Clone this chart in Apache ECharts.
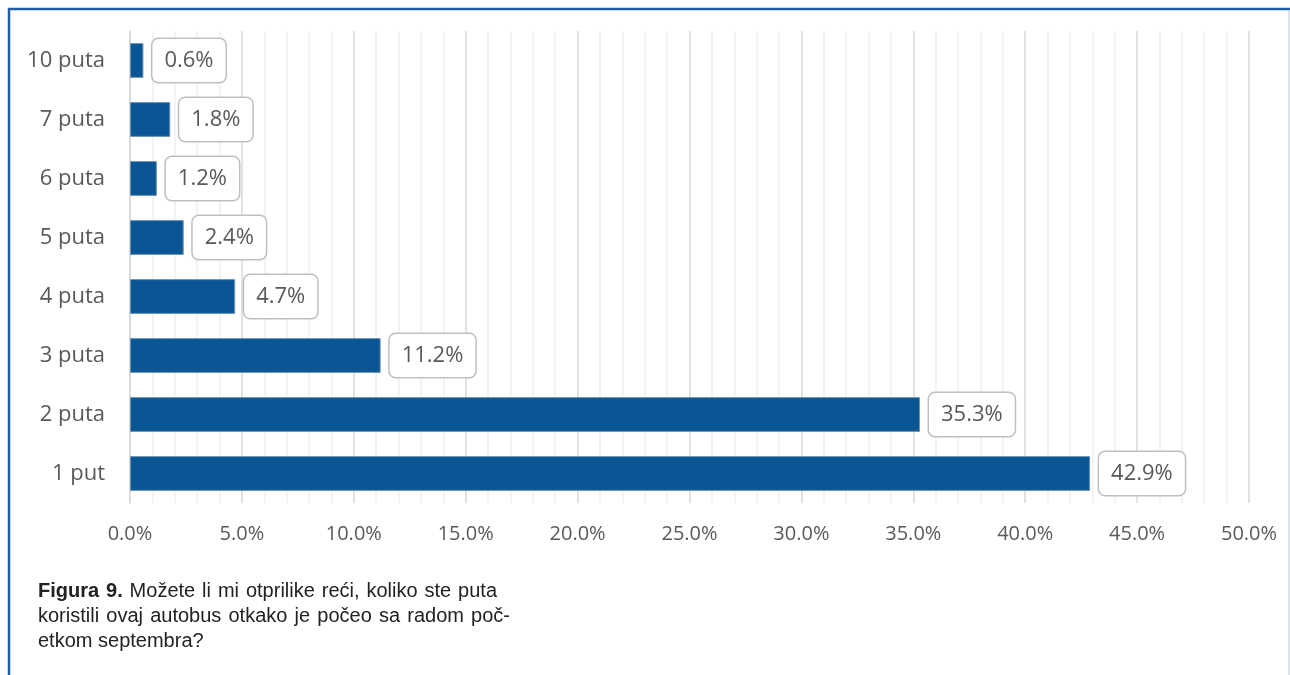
<!DOCTYPE html>
<html>
<head>
<meta charset="utf-8">
<script src="https://cdn.jsdelivr.net/npm/echarts@6/dist/echarts.min.js"></script>
<style>
  html, body { margin: 0; padding: 0; background: #ffffff; }
  #chart { width: 1290px; height: 675px; }
</style>
</head>
<body>
<div id="chart"></div>
<script>
// Number of bus rides since the line opened (share of respondents, %)
const categories = ['1 put', '2 puta', '3 puta', '4 puta', '5 puta', '6 puta', '7 puta', '10 puta'];
const shares = [42.9, 35.3, 11.2, 4.7, 2.4, 1.2, 1.8, 0.6];
const axisMax = 50;
const axisStep = 5;

// Caption lines (first words of line one are bold)
const captionBold = 'Figura 9.';
const captionLines = [
  'Možete li mi otprilike reći, koliko ste puta',
  'koristili ovaj autobus otkako je počeo sa radom poč-',
  'etkom septembra?'
];

const chart = echarts.init(document.getElementById('chart'));
const font = '"Open Sans", sans-serif';
const capFont = '"Liberation Sans", Arial, sans-serif';
const capSize = 20;

// Justified caption: each word placed as its own text, spaces stretched to fill the line
const measure = document.createElement('canvas').getContext('2d');
function wordWidth(w, bold) {
  measure.font = (bold ? 'bold ' : '') + capSize + 'px ' + capFont;
  return measure.measureText(w).width;
}
const captionLeft = 38;
const captionTop = 581;
const captionLineHeight = 25;
const justifyWidths = [459, 472, null];
const captionGraphics = [];
captionLines.forEach((line, i) => {
  const words = line.split(' ').map(w => ({ text: w, bold: false }));
  if (i === 0) {
    captionBold.split(' ').reverse().forEach(w => words.unshift({ text: w, bold: true }));
  }
  const widths = words.map(w => wordWidth(w.text, w.bold));
  const total = widths.reduce((a, b) => a + b, 0);
  const target = justifyWidths[i];
  const gap = target ? (target - total) / (words.length - 1) : wordWidth(' ', false);
  let x = captionLeft;
  words.forEach((w, k) => {
    captionGraphics.push({
      type: 'text',
      x: x,
      y: captionTop + i * captionLineHeight,
      style: {
        text: w.text,
        font: (w.bold ? 'bold ' : '') + capSize + 'px ' + capFont,
        fill: '#222222',
        textVerticalAlign: 'top'
      }
    });
    x += widths[k] + gap;
  });
});

chart.setOption({
  animation: false,
  grid: { left: 130, right: 41, top: 31, bottom: 172, containLabel: false },
  xAxis: {
    type: 'value',
    min: 0,
    max: axisMax,
    interval: axisStep,
    axisLine: { show: false },
    axisTick: { show: false },
    minorTick: { show: false, splitNumber: 5 },
    axisLabel: {
      margin: 21,
      fontFamily: font,
      fontSize: 20,
      color: '#595959',
      formatter: v => v.toFixed(1) + '%'
    },
    splitLine: { show: true, lineStyle: { color: '#d9d9d9', width: 1.5 } },
    minorSplitLine: { show: true, lineStyle: { color: '#eef1f1', width: 1.5 } }
  },
  yAxis: {
    type: 'category',
    data: categories,
    axisLine: { show: true, lineStyle: { color: '#d9d9d9', width: 1.5 } },
    axisTick: { show: false },
    axisLabel: { margin: 25, fontFamily: font, fontSize: 22, color: '#595959' }
  },
  series: [{
    type: 'bar',
    data: shares,
    barCategoryGap: '41%',
    itemStyle: { color: '#0a5594', borderColor: '#6f93b3', borderWidth: 1 },
    label: {
      show: true,
      position: 'right',
      distance: 9,
      fontFamily: font,
      fontSize: 22,
      color: '#595959',
      backgroundColor: '#ffffff',
      borderColor: '#bfbfbf',
      borderWidth: 1.5,
      borderRadius: 6,
      padding: [11, 12, 10, 12],
      formatter: p => p.value.toFixed(1) + '%'
    }
  }],
  graphic: [
    // frame around the figure
    { type: 'line', shape: { x1: 8, y1: 9, x2: 1290, y2: 9 }, style: { stroke: '#1f5f9f', lineWidth: 2.5 } },
    { type: 'line', shape: { x1: 9, y1: 8, x2: 9, y2: 675 }, style: { stroke: '#1f5f9f', lineWidth: 2.5 } },
    { type: 'line', shape: { x1: 1289, y1: 10, x2: 1289, y2: 675 }, style: { stroke: '#b7c9dc', lineWidth: 1 } }
  ].concat(captionGraphics)
});
</script>
</body>
</html>
